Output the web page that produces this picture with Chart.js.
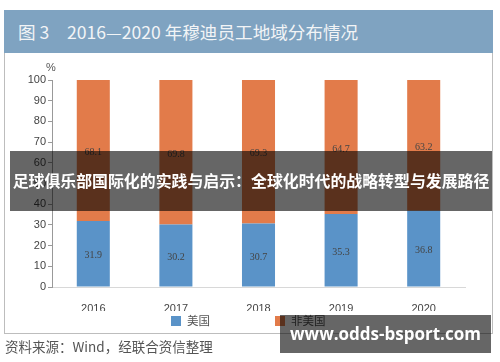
<!DOCTYPE html>
<html>
<head>
<meta charset="utf-8">
<script src="https://cdn.jsdelivr.net/npm/chart.js@4"></script>
<style>
  body { margin: 0; width: 500px; height: 362px; background: #fff; position: relative; overflow: hidden; font-family: "Noto Sans CJK SC", "Noto Sans", sans-serif; }
  #titulo { position: absolute; left: 4px; top: 10px; width: 489px; height: 43px; background: #7fa3c1; color: #f2f4f6; font-size: 17.6px; line-height: 43px; padding-left: 14px; box-sizing: border-box; }
  #marco { position: absolute; left: 4px; top: 53px; width: 489px; height: 281px; border: 1px solid #bdbdbd; border-top: none; box-sizing: border-box; }
  #caja { position: absolute; left: 5px; top: 54px; width: 487px; height: 279px; }
  #pct { position: absolute; left: 46px; top: 61px; font-size: 11px; color: #555; font-family: "Liberation Sans", sans-serif; }
  #leyenda { position: absolute; left: 0; top: 312px; width: 500px; height: 16px; }
  .item { position: absolute; top: 0; font-size: 11.5px; color: #555; line-height: 16px; }
  .item i { display: inline-block; width: 10px; height: 10px; margin-right: 6px; vertical-align: -1px; }
  #fuente { position: absolute; left: 5px; top: 336px; font-size: 13.5px; color: #555; }
  #banda { position: absolute; left: 10px; top: 151px; width: 482px; height: 60px; background: rgba(0,0,0,0.6); color: #fff; font-weight: bold; font-size: 15.9px; line-height: 60px; text-align: center; white-space: nowrap; overflow: hidden; }
  #marca { position: absolute; left: 280px; top: 315px; width: 211px; height: 38px; background: rgba(0,0,0,0.6); color: #fff; font-weight: bold; font-size: 17px; line-height: 38px; text-align: center; font-family: "Open Sans", sans-serif; white-space: nowrap; }
</style>
</head>
<body>
<div id="titulo">图 3　2016—2020 年穆迪员工地域分布情况</div>
<div id="marco"></div>
<div id="caja"><canvas id="grafico"></canvas></div>
<div id="pct">%</div>
<div id="leyenda"></div>
<div id="fuente">资料来源：Wind，经联合资信整理</div>
<div id="banda">足球俱乐部国际化的实践与启示：全球化时代的战略转型与发展路径</div>
<div id="marca">www.odds-bsport.com</div>
<script>
    // datos
    const anios = ['2016', '2017', '2018', '2019', '2020'];
    const usa = [31.9, 30.2, 30.7, 35.3, 36.8];
    const noUsa = [68.1, 69.8, 69.3, 64.7, 63.2];
    const ticksY = [0, 10, 20, 30, 40, 50, 60, 70, 80, 90, 100];

    // etiquetas dentro de las barras
    const etiquetas = {
        id: 'etiquetas',
        afterDatasetsDraw(chart) {
            const ctx = chart.ctx;
            ctx.save();
            ctx.font = '10px "Liberation Serif", serif';
            ctx.fillStyle = '#444';
            ctx.textAlign = 'center';
            ctx.textBaseline = 'middle';
            chart.data.datasets.forEach((ds, i) => {
                chart.getDatasetMeta(i).data.forEach((barra, j) => {
                    const y = (barra.y + barra.base) / 2;
                    ctx.fillText(ds.data[j].toFixed(1), barra.x, y + 2);
                });
            });
            ctx.restore();
        }
    };

    const grafico = new Chart(document.getElementById('grafico'), {
        type: 'bar',
        data: {
            labels: anios,
            datasets: [{
                label: '美国',
                data: usa,
                backgroundColor: '#5a93c8'
            }, {
                label: '非美国',
                data: noUsa,
                backgroundColor: '#e27b4a'
            }]
        },
        options: {
            responsive: true,
            maintainAspectRatio: false,
            animation: false,
            layout: { padding: { left: 0, right: 27, top: 26, bottom: 22 } },
            datasets: { bar: { categoryPercentage: 1, barPercentage: 0.4 } },
            plugins: {
                legend: { display: false },
                tooltip: { enabled: false }
            },
            scales: {
                x: {
                    stacked: true,
                    grid: { display: false },
                    border: { color: '#d8d8d8' },
                    ticks: { color: '#444', font: { size: 11, family: '"Liberation Sans", sans-serif' }, padding: 7 },
                    afterFit(s) { s.height = 24; }
                },
                y: {
                    stacked: true,
                    min: 0, max: 100,
                    afterBuildTicks(s) { s.ticks = ticksY.map(v => ({ value: v })); },
                    grid: { drawOnChartArea: false, drawTicks: true, tickLength: 4, color: '#999' },
                    border: { color: '#999' },
                    ticks: { color: '#444', font: { size: 11, family: '"Liberation Sans", sans-serif' }, padding: 2 },
                    afterFit(s) { s.width = 47; }
                }
            }
        },
        plugins: [etiquetas]
    });

    // leyenda
    const posLeyenda = [171, 275];
    grafico.data.datasets.forEach((ds, i) => {
        const el = document.createElement('div');
        el.className = 'item';
        el.style.left = posLeyenda[i] + 'px';
        el.innerHTML = '<i style="background:' + ds.backgroundColor + '"></i>' + ds.label;
        document.getElementById('leyenda').appendChild(el);
    });
</script>
</body>
</html>
